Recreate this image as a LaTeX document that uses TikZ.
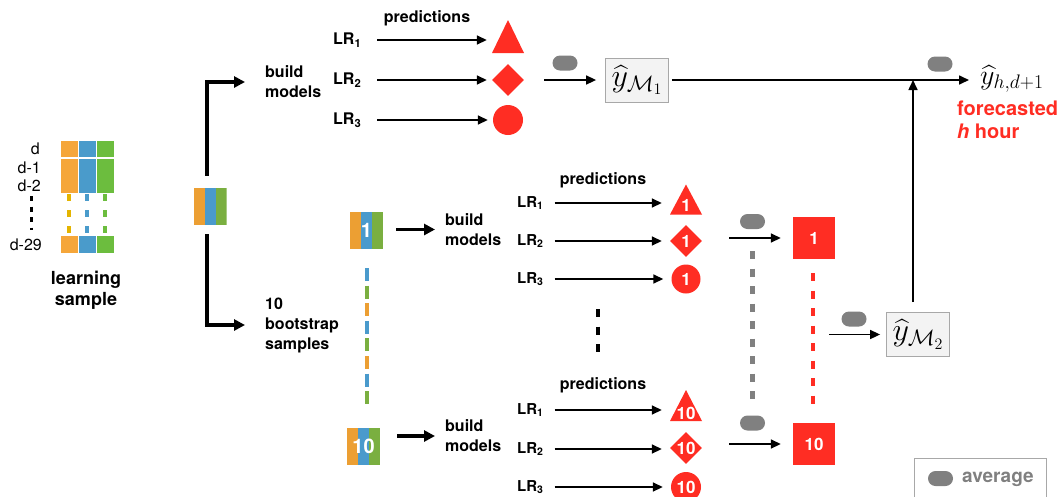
\documentclass[tikz,border=0pt]{standalone}
\usepackage{fix-cm}
\usepackage{amsmath}
\usepackage{fontspec}
\setmainfont{TeX Gyre Heros}
\usetikzlibrary{arrows.meta, calc, positioning, shapes.geometric}
\definecolor{sampleorange}{RGB}{245,166,58}
\definecolor{sampleblue}{RGB}{74,155,203}
\definecolor{samplegreen}{RGB}{108,189,62}
\definecolor{bootorange}{RGB}{236,159,51}
\definecolor{bootblue}{RGB}{74,154,204}
\definecolor{bootgreen}{RGB}{122,175,64}
\definecolor{dashyellow}{RGB}{228,180,0}
\definecolor{predred}{RGB}{255,45,35}
\definecolor{avggrey}{RGB}{128,128,128}
\definecolor{boxgrey}{RGB}{168,168,168}
\definecolor{boxfill}{RGB}{243,243,243}

\begin{document}
\begin{tikzpicture}[x=1pt, y=-1pt,
        txt/.style={font=\fontsize{16}{20}\selectfont\bfseries, align=left, inner sep=0pt},
        day/.style={font=\fontsize{16}{19}\selectfont, anchor=east, inner sep=0pt},
        lr/.style={font=\fontsize{16}{19}\selectfont\bfseries, anchor=west, inner sep=0pt},
        lrs/.style={lr, font=\fontsize{15}{18}\selectfont\bfseries},
        arr/.style={-{Triangle[length=10pt, width=9pt]}, line width=1.6pt},
        bigarr/.style={-{Triangle[length=11pt, width=11pt]}, line width=3.5pt},
        pill/.style={fill=avggrey, rounded corners=7.5pt, minimum width=25pt, minimum height=15pt, inner sep=0pt},
        num/.style={text=white, font=\fontsize{17}{17}\selectfont\bfseries, inner sep=0pt},
        tri/.style={minimum width=32pt, minimum height=#1, inner sep=0pt,
            path picture={\fill[predred] (path picture bounding box.south west) -- (path picture bounding box.south east) -- (path picture bounding box.north) -- cycle;}},
        tri/.default=33pt,
        dia/.style={diamond, fill=predred, minimum width=32pt, minimum height=32pt, inner sep=0pt, num},
        dot/.style={circle, fill=predred, minimum size=#1, inner sep=0pt, num},
        dot/.default=30pt,
        sq/.style={fill=predred, minimum size=42pt, inner sep=0pt, num},
        ybox/.style={draw=boxgrey, fill=boxfill, line width=0.8pt, minimum width=63pt, minimum height=44pt, inner sep=3pt, font=\fontsize{32}{36}\selectfont},
        stack/.style={minimum width=33pt, minimum height=37pt, inner sep=0pt, text=white, font=\fontsize{20}{20}\selectfont\bfseries,
            path picture={
                \fill[bootorange] (path picture bounding box.south west) rectangle ($(path picture bounding box.north west)!1/3!(path picture bounding box.north east)$);
                \fill[bootblue] ($(path picture bounding box.south west)!1/3!(path picture bounding box.south east)$) rectangle ($(path picture bounding box.north west)!2/3!(path picture bounding box.north east)$);
                \fill[bootgreen] ($(path picture bounding box.south west)!2/3!(path picture bounding box.south east)$) rectangle (path picture bounding box.north east);}}]

    \useasboundingbox (0,0) rectangle (1062,496);

    % Learning sample
    \foreach \c/\x in {sampleorange/61, sampleblue/79, samplegreen/97} {
        \fill[\c] (\x,141) rectangle ++(17,16);
        \fill[\c] (\x,159) rectangle ++(17,34);
        \fill[\c] (\x,236) rectangle ++(17,17);
    }
    \foreach \c/\x in {dashyellow/69, sampleblue/87, samplegreen/105}
        \draw[\c, line width=4.5pt, dash pattern=on 7pt off 9pt] (\x,194) -- (\x,233);
    \node[day] (dd) at (40,149) {d};
    \node[day] (dd1) at (41,168) {d-1};
    \node[day] (dd2) at (41,186) {d-2};
    \node[day] (dd29) at (42,245) {d-29};
    \draw[line width=3pt, dash pattern=on 5pt off 5.5pt] (31,196) -- (31,230);
    \node[txt, align=center, font=\fontsize{18}{21}\selectfont\bfseries] (learn) at (86,290) {learning\\sample};

    % Split
    \node[stack] (mid) at (210,206.5) {};
    \node[txt, anchor=west] (buildA) at (265,82) {build\\models};
    \node[txt, anchor=west] (bootA) at (265,325) {10\\bootstrap\\samples};
    \draw[bigarr] ([xshift=-3pt, yshift=12pt]mid.north) |- ([xshift=-20pt]buildA.west);
    \draw[bigarr] ([xshift=-3pt, yshift=-9pt]mid.south) |- ([xshift=-20pt]bootA.west);

    % Model 1
    \node[txt] (predA) at (427,18) {predictions};
    \node[lr] (lrA1) at (333,40) {LR\textsubscript{1}};
    \node[lr] (lrA2) at (333,80) {LR\textsubscript{2}};
    \node[lr] (lrA3) at (333,120) {LR\textsubscript{3}};
    \node[tri] (triA) at (508,36.5) {};
    \node[dia] (diamA) at (508,80) {};
    \node[dot] (circA) at (508,120) {};
    \foreach \i/\s in {1/triA, 2/diamA, 3/circA}
        \draw[arr, shorten >=5pt] ([xshift=16pt]lrA\i.east) -- (lrA\i.east -| \s.west);

    \node[ybox] (yA) at (637,80) {$\widehat{y}_{\mathcal{M}_1}$};
    \node[pill] (pA) at (565,63) {};
    \draw[arr] ([xshift=20pt]diamA.east) -- ([xshift=-9pt]yA.west);

    % Final forecast
    \node[anchor=west, inner sep=0pt, font=\fontsize{28}{32}\selectfont] (yF) at (980,79) {$\widehat{y}_{h,d+1}$};
    \node[pill] (pF) at (940,64) {};
    \draw[arr] ([xshift=3pt]yA.east) -- ([xshift=-11pt]yA.east -| yF.west);
    \node[txt, text=predred, anchor=north west, font=\fontsize{20}{23}\selectfont\bfseries] (fc) at (957,101) {forecasted\\\textit{h} hour};

    % Bootstrap samples
    \node[stack] (bsA) at (366.5,230.5) {1};
    \node[stack] (bsB) at (363.5,446.5) {10};
    \foreach \c [count=\i from 0] in {bootblue, bootgreen, bootorange, bootblue, bootgreen, bootorange, bootblue, bootgreen}
        \draw[\c, line width=3.5pt] (367,{268+17.6*\i}) -- ++(0,13);
    \node[txt, anchor=west] (buildB) at (445,229.5) {build\\models};
    \node[txt, anchor=west] (buildC) at (445,436) {build\\models};
    \draw[bigarr] ([xshift=13pt]bsA.east |- buildB.west) -- ([xshift=-10pt]buildB.west);
    \draw[bigarr] ([xshift=17pt]bsB.east |- buildC.west) -- ([xshift=-10pt]buildC.west);

    % Bootstrap models 1
    \node[txt] (predB) at (603,180) {predictions};
    \node[lrs] (lrB1) at (517,203) {LR\textsubscript{1}};
    \node[lrs] (lrB2) at (517,241) {LR\textsubscript{2}};
    \node[lrs] (lrB3) at (517,279) {LR\textsubscript{3}};
    \node[tri=30pt] (triB) at (686,199.5) {};
    \node[num] (triBn) at ([yshift=9pt]triB.south) {1};
    \node[dia] (diamB) at (686,241) {1};
    \node[dot=29pt] (circB) at (686,279) {1};
    \foreach \i/\s in {1/triB, 2/diamB, 3/circB}
        \draw[arr, shorten >=8pt] ([xshift=11pt]lrB\i.east) -- (lrB\i.east -| \s.west);

    \draw[line width=3.5pt, dash pattern=on 8pt off 9.5pt] (598,309) -- (598,352);

    % Bootstrap models 10
    \node[txt] (predC) at (603,385) {predictions};
    \node[lrs] (lrC1) at (517,410) {LR\textsubscript{1}};
    \node[lrs] (lrC2) at (517,449) {LR\textsubscript{2}};
    \node[lrs] (lrC3) at (517,487) {LR\textsubscript{3}};
    \node[tri=31pt] (triC) at (686,405.5) {};
    \node[num] (triCn) at ([yshift=8pt]triC.south) {10};
    \node[dia] (diamC) at (686,448) {10};
    \node[dot] (circC) at (686,487) {10};
    \foreach \i/\s in {1/triC, 2/diamC, 3/circC}
        \draw[arr, shorten >=8pt] ([xshift=11pt]lrC\i.east) -- (lrC\i.east -| \s.west);

    % Averages of bootstrap models
    \node[sq] (sqA) at (814,238) {1};
    \node[sq] (sqB) at (814,444) {10};
    \node[pill] (pB1) at (752.5,221.5) {};
    \node[pill] (pB2) at (752.5,423) {};
    \draw[arr] ([xshift=27pt]diamB.east |- sqA.west) -- ([xshift=-12pt]sqA.west);
    \draw[arr] ([xshift=27pt]diamC.east |- sqB.west) -- ([xshift=-12pt]sqB.west);
    \draw[avggrey, line width=4.5pt, dash pattern=on 8pt off 9.5pt] ([yshift=-22pt]pB1.south) -- ([yshift=15.5pt]pB2.north);
    \draw[predred, line width=4.5pt, dash pattern=on 8pt off 9.5pt] ([xshift=-1pt, yshift=-14pt]sqA.south) -- ([xshift=-1pt, yshift=19pt]sqB.north);
    \coordinate (redmid) at ($(sqA.south)!0.5!(sqB.north)$);

    % Model 2
    \node[ybox] (yB) at (918,334.5) {$\widehat{y}_{\mathcal{M}_2}$};
    \node[pill] (pB) at (854,319) {};
    \draw[arr] ([xshift=15pt]redmid |- yB.west) -- ([xshift=-6pt]yB.west);
    \draw[arr] ([xshift=-5pt, yshift=10pt]yB.north) -- ([xshift=-5pt]yB.north |- yA.east);

    % Legend
    \node[draw=boxgrey, line width=1.2pt, minimum width=132pt, minimum height=45pt, anchor=north west] (legend) at (914,458) {};
    \node[pill] (pL) at (940.5,478.5) {};
    \node[txt, text=avggrey, anchor=west, font=\fontsize{19}{22}\selectfont\bfseries] (avgL) at (962,479) {average};
\end{tikzpicture}
\end{document}
